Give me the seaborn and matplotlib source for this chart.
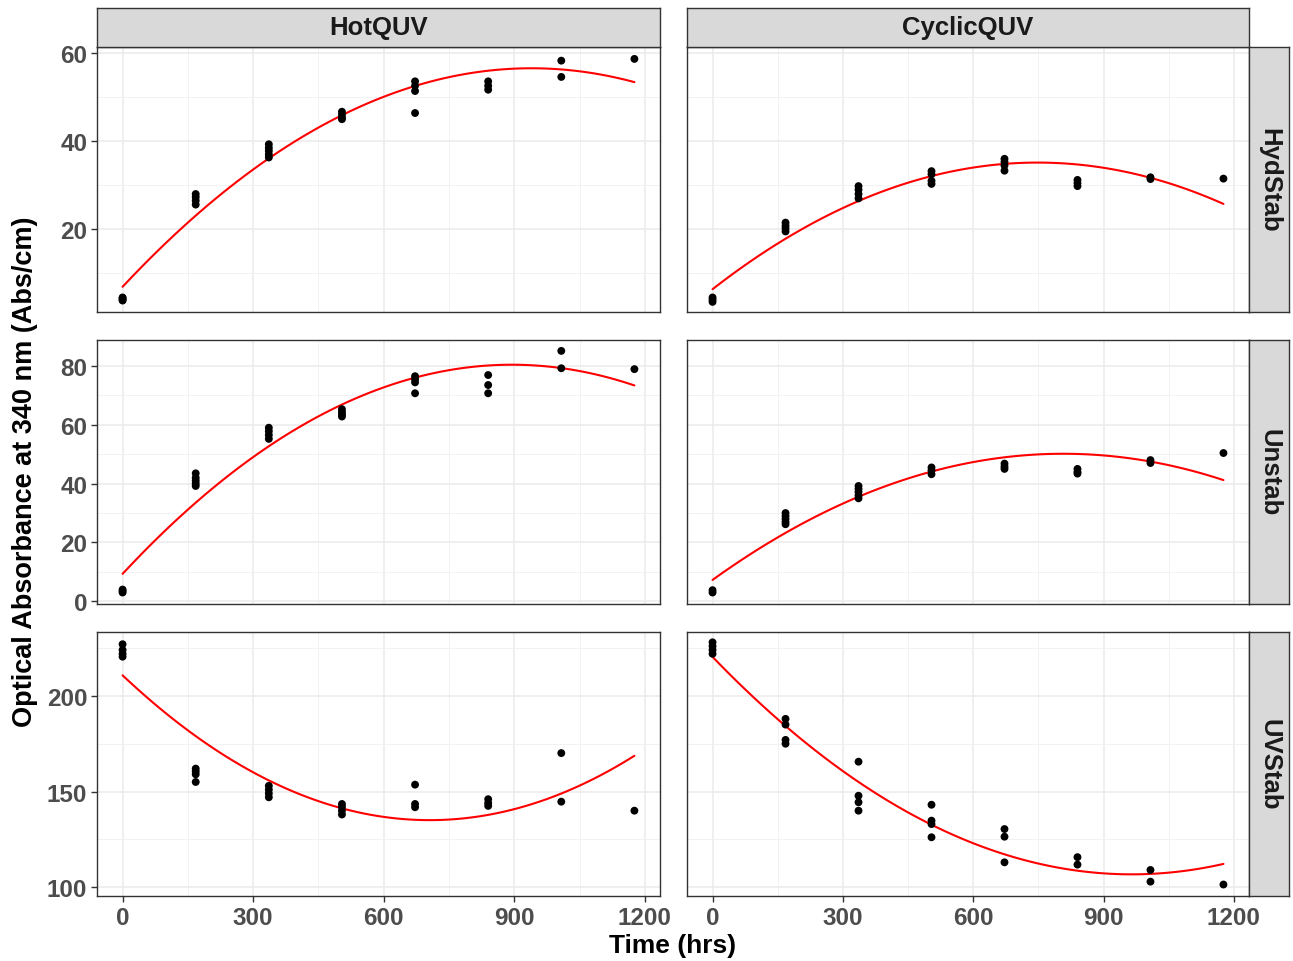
import numpy as np
import pandas as pd
import matplotlib
matplotlib.use("Agg")
import matplotlib.pyplot as plt
import seaborn as sns

# ---------------- data ----------------
times = [0, 168, 336, 504, 672, 840, 1008, 1176]
chambers = ["HotQUV", "CyclicQUV"]
stabs = ["HydStab", "Unstab", "UVStab"]

# observed absorbance, one list per time point
hot_hyd_pts = [[3.8, 4.0, 4.3, 4.5], [28.0, 27.3, 26.5, 25.6], [39.3, 38.5, 37.8, 37.0, 36.3],
               [46.7, 46.0, 45.3, 45.0], [53.6, 52.6, 51.4, 46.4], [53.6, 52.6, 51.7],
               [58.3, 54.6], [58.7]]
cyc_hyd_pts = [[3.5, 4.0, 4.5], [21.5, 20.8, 20.2, 19.5], [29.8, 29.0, 28.0, 27.0],
               [33.2, 32.5, 31.0, 30.3], [36.0, 35.3, 34.5, 33.3], [31.2, 30.5, 29.8],
               [31.8, 31.4], [31.5]]
hot_un_pts = [[3.0, 3.5, 4.0], [43.5, 42.0, 41.0, 40.0, 39.2], [59.0, 57.8, 56.5, 55.2],
              [65.3, 64.3, 63.5, 62.8], [76.5, 75.5, 74.4, 70.7], [76.9, 73.5, 70.7],
              [85.1, 79.2], [78.9]]
cyc_un_pts = [[3.0, 3.8], [30.0, 29.0, 28.0, 27.0, 26.2], [39.2, 38.2, 37.2, 36.0, 35.0],
              [45.5, 44.5, 43.2], [46.8, 45.8, 45.0], [45.0, 44.0, 43.4],
              [48.0, 47.0], [50.4]]
hot_uv_pts = [[227.0, 224.0, 222.0, 220.5], [162.0, 160.5, 159.0, 155.0], [153.0, 151.0, 149.0, 147.0],
              [143.5, 142.0, 140.0, 138.0], [153.6, 143.5, 141.8], [146.0, 144.0, 142.5],
              [170.1, 144.7], [140.0]]
cyc_uv_pts = [[228.0, 226.0, 224.0, 222.0], [188.0, 185.0, 177.0, 175.0], [165.6, 147.8, 144.4, 140.0],
              [143.1, 134.8, 133.0, 126.1], [130.4, 126.4, 113.0], [115.7, 111.8],
              [109.0, 102.9], [101.4]]

# fitted (quadratic) trend read at each time point
hot_hyd_fit = [7.3, 22.7, 35.6, 46.0, 53.4, 55.9, 55.8, 53.6]
cyc_hyd_fit = [6.8, 17.4, 25.7, 32.6, 35.4, 34.8, 31.0, 26.0]
hot_un_fit = [9.8, 32.7, 52.4, 67.6, 76.6, 79.8, 78.5, 73.8]
cyc_un_fit = [7.7, 22.5, 35.5, 44.5, 49.2, 49.9, 47.3, 41.3]
hot_uv_fit = [209.6, 180.9, 156.5, 140.0, 133.9, 137.9, 150.9, 167.8]
cyc_uv_fit = [219.7, 185.6, 155.6, 131.3, 116.0, 109.5, 108.3, 111.3]

points = {("HydStab", "HotQUV"): hot_hyd_pts, ("HydStab", "CyclicQUV"): cyc_hyd_pts,
          ("Unstab", "HotQUV"): hot_un_pts, ("Unstab", "CyclicQUV"): cyc_un_pts,
          ("UVStab", "HotQUV"): hot_uv_pts, ("UVStab", "CyclicQUV"): cyc_uv_pts}
fits = {("HydStab", "HotQUV"): hot_hyd_fit, ("HydStab", "CyclicQUV"): cyc_hyd_fit,
        ("Unstab", "HotQUV"): hot_un_fit, ("Unstab", "CyclicQUV"): cyc_un_fit,
        ("UVStab", "HotQUV"): hot_uv_fit, ("UVStab", "CyclicQUV"): cyc_uv_fit}

y_ticks = {"HydStab": [20, 40, 60], "Unstab": [0, 20, 40, 60, 80], "UVStab": [100, 150, 200]}
y_minor = {"HydStab": [10, 30, 50], "Unstab": [10, 30, 50, 70], "UVStab": [125, 175, 225]}
y_lims = {"HydStab": (1.2, 61.4), "Unstab": (-0.9, 88.8), "UVStab": (95.4, 233.4)}
x_ticks = [0, 300, 600, 900, 1200]
x_minor = [150, 450, 750, 1050]

# ---------------- style ----------------
sns.set_theme(style="white")
plt.rcParams["font.family"] = ["Liberation Sans", "DejaVu Sans"]
plt.rcParams["font.weight"] = "bold"

W, H = 1293, 962
fig = plt.figure(figsize=(W / 100, H / 100), dpi=100)


def rect(x0, y0, x1, y1):
    return [x0 / W, 1 - y1 / H, (x1 - x0) / W, (y1 - y0) / H]


col_x = [(97, 660), (687, 1249)]
row_y = [(48, 313), (341, 605), (633, 897)]
border = "#333333"

for ri, stab in enumerate(stabs):
    for ci, ch in enumerate(chambers):
        x0, x1 = col_x[ci]
        y0, y1 = row_y[ri]
        ax = fig.add_axes(rect(x0, y0, x1, y1))
        pts = points[(stab, ch)]
        df = pd.DataFrame({"time": [t for t, vs in zip(times, pts) for _ in vs],
                           "abs": [v for vs in pts for v in vs]})
        fdf = pd.DataFrame({"time": times, "fit": fits[(stab, ch)]})
        sns.regplot(data=fdf, x="time", y="fit", order=2, ci=None, scatter=False,
                    ax=ax, line_kws=dict(color="#FF0000", lw=1.5, zorder=3))
        sns.scatterplot(data=df, x="time", y="abs", ax=ax, color="black", s=32,
                        edgecolor="none", zorder=4)
        ax.set_xlim(-58.8, 1234.8)
        ax.set_ylim(*y_lims[stab])
        ax.set_xticks(x_ticks)
        ax.set_xticks(x_minor, minor=True)
        ax.set_yticks(y_ticks[stab])
        ax.set_yticks(y_minor[stab], minor=True)
        ax.grid(which="major", color="#EBEBEB", lw=1.1)
        ax.grid(which="minor", color="#F2F2F2", lw=0.7)
        ax.set_axisbelow(True)
        ax.set_facecolor("white")
        for sp in ax.spines.values():
            sp.set_color(border)
            sp.set_linewidth(1.0)
            sp.set_visible(True)
        ax.tick_params(which="major", length=4, width=1, color=border,
                       labelsize=17.5, labelcolor="#4D4D4D", pad=3,
                       bottom=(ri == 2), left=(ci == 0),
                       labelbottom=(ri == 2), labelleft=(ci == 0))
        ax.tick_params(which="minor", length=0)
        ax.set_xlabel("")
        ax.set_ylabel("")

# strips
strip_fc = "#D9D9D9"
for ci, ch in enumerate(chambers):
    x0, x1 = col_x[ci]
    sax = fig.add_axes(rect(x0, 9, x1, 48))
    sax.set_facecolor(strip_fc)
    sax.set_xticks([]); sax.set_yticks([])
    for sp in sax.spines.values():
        sp.set_color(border); sp.set_linewidth(1.0); sp.set_visible(True)
    sax.text(0.5, 0.5, ch, ha="center", va="center", fontsize=18.5,
             fontweight="bold", color="#1A1A1A", transform=sax.transAxes)

for ri, stab in enumerate(stabs):
    y0, y1 = row_y[ri]
    sax = fig.add_axes(rect(1249, y0, 1289, y1))
    sax.set_facecolor(strip_fc)
    sax.set_xticks([]); sax.set_yticks([])
    for sp in sax.spines.values():
        sp.set_color(border); sp.set_linewidth(1.0); sp.set_visible(True)
    sax.text(0.5, 0.5, stab, ha="center", va="center", fontsize=18.5, rotation=-90,
             fontweight="bold", color="#1A1A1A", transform=sax.transAxes)

fig.text(673 / W, 1 - 946 / H, "Time (hrs)", ha="center", va="center",
         fontsize=19, fontweight="bold", color="black")
fig.text(25 / W, 1 - 472 / H, "Optical Absorbance at 340 nm (Abs/cm)", ha="center",
         va="center", rotation=90, fontsize=19.5, fontweight="bold", color="black")

fig.savefig("out.png", dpi=100, facecolor="white")
